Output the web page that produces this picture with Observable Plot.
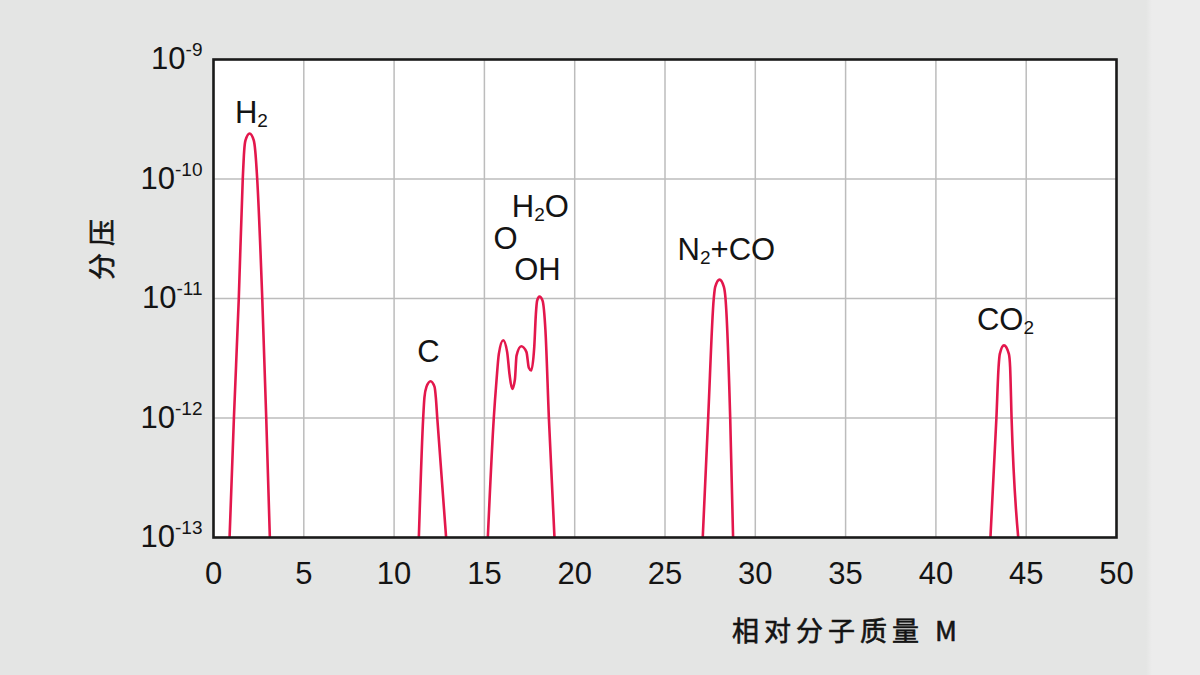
<!DOCTYPE html>
<html><head><meta charset="utf-8">
<script src="https://cdn.jsdelivr.net/npm/d3@7"></script>
<script src="https://cdn.jsdelivr.net/npm/@observablehq/plot@0.6"></script>
<style>
html,body{margin:0;padding:0;}
body{width:1200px;height:675px;overflow:hidden;background:linear-gradient(to right,#e4e5e4 0,#e4e5e4 1146px,#ececec 1152px);}
#chart{position:relative;width:1200px;height:675px;}
#chart svg{display:block;}
</style></head><body><div id="chart"></div>
<script>
// ---- data ----
const xTicks = [0, 5, 10, 15, 20, 25, 30, 35, 40, 45, 50];
const yTicks = [1e-13, 1e-12, 1e-11, 1e-10, 1e-9];
const yTickLabels = ["10^-13", "10^-12", "10^-11", "10^-10", "10^-9"];
const xLabel = "相对分子质量 M";
const yLabel = "分压";

const h2X = [0.89, 1.13, 1.40, 1.62, 1.70, 1.77, 2.00, 2.23, 2.31, 2.42, 2.70, 2.92, 3.12];
const h2Y = [1e-13, 1e-12, 1e-11, 1e-10, 1.73e-10, 2.1e-10, 2.4e-10, 2.1e-10, 1.73e-10, 1e-10, 1e-11, 1e-12, 1e-13];

const cX = [11.37, 11.61, 11.68, 11.79, 12.02, 12.24, 12.31, 12.39, 12.88];
const cY = [1e-13, 1e-12, 1.49e-12, 1.82e-12, 2.03e-12, 1.82e-12, 1.49e-12, 1e-12, 1e-13];

const waterX = [15.19, 15.52, 15.67, 15.80, 16.04, 16.26, 16.39, 16.54, 16.69, 16.78, 17.04, 17.33, 17.46, 17.59, 17.76, 17.85, 17.92, 18.05, 18.22, 18.38, 18.57, 18.88];
const waterY = [1e-13, 1e-12, 2.06e-12, 3.44e-12, 4.47e-12, 3.56e-12, 2.33e-12, 1.75e-12, 2.1e-12, 3.33e-12, 3.98e-12, 3.56e-12, 2.63e-12, 2.5e-12, 3.92e-12, 7.4e-12, 9.6e-12, 1.04e-11, 9.6e-12, 5.4e-12, 1e-12, 1e-13];

const n2X = [27.09, 27.39, 27.70, 27.78, 28.02, 28.26, 28.35, 28.61, 28.77];
const n2Y = [1e-13, 1e-12, 1e-11, 1.25e-11, 1.44e-11, 1.25e-11, 1e-11, 1e-12, 1e-13];

const co2X = [43.02, 43.35, 43.47, 43.54, 43.77, 44.04, 44.11, 44.19, 44.56];
const co2Y = [1e-13, 1e-12, 2.66e-12, 3.44e-12, 4.05e-12, 3.44e-12, 2.66e-12, 1e-12, 1e-13];

const peakLabels = ["H_2", "C", "O", "OH", "H_2O", "N_2+CO", "CO_2"];
const peakLabelX = [2.1, 11.9, 16.17, 17.94, 18.1, 28.4, 43.85];
const peakLabelY = [2.93e-10, 2.93e-12, 2.62e-11, 1.42e-11, 4.85e-11, 2.12e-11, 5.4e-12];

// ---- build tables ----
const seriesDefs = [["H2", h2X, h2Y], ["C", cX, cY], ["water", waterX, waterY], ["N2CO", n2X, n2Y], ["CO2", co2X, co2Y]];
const lineData = seriesDefs.flatMap(([name, xs, ys]) => xs.map((x, i) => ({name, x, y: ys[i]})));
const labelData = peakLabels.map((t, i) => ({t, x: peakLabelX[i], y: peakLabelY[i]}));

const FONT = "'Liberation Sans', Arial, Helvetica, sans-serif";
const INK = "#141414";

const plot = Plot.plot({
  width: 1200,
  height: 675,
  marginLeft: 213,
  marginRight: 84,
  marginTop: 59,
  marginBottom: 138,
  style: {background: "transparent", fontFamily: FONT, fontSize: "31px", color: INK, overflow: "visible"},
  x: {domain: [0, 50]},
  y: {type: "log", domain: [1e-13, 1e-9]},
  marks: [
    Plot.frame({fill: "white", stroke: null}),
    Plot.gridX(xTicks.filter(d => d > 0 && d < 50), {stroke: "#bcbcbc", strokeOpacity: 1, strokeWidth: 1.5}),
    Plot.gridY(yTicks.filter(d => d > 1e-13 && d < 1e-9), {stroke: "#bcbcbc", strokeOpacity: 1, strokeWidth: 1.5}),
    Plot.line(lineData, {x: "x", y: "y", z: "name", stroke: "#e3174c", strokeWidth: 2.6, curve: "monotone-x", clip: true}),
    Plot.frame({stroke: "#1a1a1a", strokeWidth: 2.6}),
    Plot.axisX(xTicks, {tickSize: 0, tickPadding: 24, fontSize: 31, label: null, fill: INK}),
    Plot.axisY(yTicks, {tickSize: 0, tickPadding: 11, fontSize: 31, label: null, fill: INK,
      tickFormat: d => yTickLabels[yTicks.indexOf(d)]}),
    Plot.text(labelData, {x: "x", y: "y", text: "t", textAnchor: "middle", lineAnchor: "bottom", fontSize: 31, fill: INK})
  ]
});

document.getElementById("chart").appendChild(plot);

// superscripts / subscripts as real tspans
const NS = "http://www.w3.org/2000/svg";
function tspan(txt, attrs) {
  const t = document.createElementNS(NS, "tspan");
  t.textContent = txt;
  for (const k in attrs) t.setAttribute(k, attrs[k]);
  return t;
}
d3.select(plot).selectAll("text").each(function () {
  const s = this.textContent;
  let m = s.match(/^10\^(-?\d+)$/);
  if (m) {
    this.textContent = "";
    this.appendChild(tspan("10", {}));
    this.appendChild(tspan(m[1], {dy: "-13", "font-size": "19px"}));
    return;
  }
  if (s.includes("_")) {
    this.textContent = "";
    const parts = s.split(/_(\d)/);
    for (let i = 0; i < parts.length; i++) {
      if (i % 2 === 0) {
        if (parts[i]) this.appendChild(tspan(parts[i], i > 0 ? {dy: "-4"} : {}));
      } else {
        this.appendChild(tspan(parts[i], {dy: "4", "font-size": "19px"}));
      }
    }
  }
});

// axis titles
const svg = d3.select(plot);
svg.append("text")
  .attr("x", 732).attr("y", 641)
  .attr("text-anchor", "start")
  .attr("font-family", "'Noto Sans CJK SC', sans-serif")
  .attr("font-weight", 400)
  .attr("font-size", 27)
  .attr("letter-spacing", 5)
  .attr("fill", INK)
  .attr("stroke", INK)
  .attr("stroke-width", 0.6)
  .text(xLabel);
svg.append("text")
  .attr("transform", "translate(112,246) rotate(-90)")
  .attr("text-anchor", "middle")
  .attr("font-family", "'Noto Sans CJK SC', sans-serif")
  .attr("font-weight", 400)
  .attr("font-size", 27)
  .attr("letter-spacing", 7)
  .attr("fill", INK)
  .attr("stroke", INK)
  .attr("stroke-width", 0.6)
  .text(yLabel);
</script>
</body></html>
